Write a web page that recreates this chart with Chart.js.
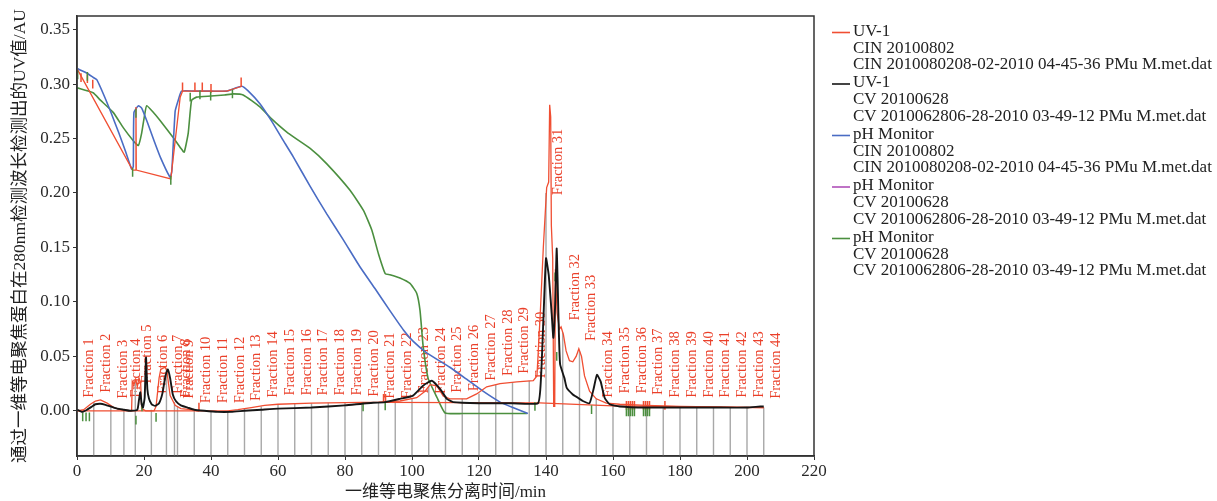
<!DOCTYPE html>
<html><head><meta charset="utf-8">
<script src="https://cdn.jsdelivr.net/npm/chart.js@4.4.1/dist/chart.umd.min.js"></script>
<style>html,body{margin:0;padding:0;background:#fff;overflow:hidden}</style>
</head><body>
<canvas id="c" width="1217" height="501"></canvas>
<script>
// ---------- data (time in min, value in AU) ----------
const xTickValues = [0,20,40,60,80,100,120,140,160,180,200,220];
const yTickValues = [0,0.05,0.10,0.15,0.20,0.25,0.30,0.35];

const uvCIN = [[0,0],[2,0.001],[4,0.006],[5.5,0.009],[7,0.010],[9,0.007],[11,0.003],[13,0.001],[16.3,0],[16.5,0.027],[17.0,0.024],[17.5,0.029],[18.0,0.022],[18.5,0.030],[19.0,0.026],[19.3,0.002],[20.5,0],[23.0,0],[23.6,0.004],[24.5,0.030],[25.0,0.038],[26.3,0.040],[26.8,0.037],[27.8,0.014],[29.3,0.005],[31,0.002],[34,0.001],[36,0],[40,0],[45,0],[48,0.001],[52,0.003],[56,0.005],[60,0.006],[70,0.007],[80,0.0075],[90,0.008],[96.4,0.009],[101.4,0.012],[103.9,0.018],[105.4,0.024],[107.4,0.023],[109.3,0.0135],[111.3,0.011],[116.3,0.011],[119.3,0.0155],[122.3,0.022],[126.3,0.025],[131.3,0.0265],[136.2,0.0276],[137.3,0.032],[138.3,0.09],[139.2,0.15],[140.2,0.205],[140.8,0.21],[141.1,0.281],[141.4,0.270],[141.6,0.170],[142.0,0.140],[142.3,0.004],[142.6,0.004],[142.8,0.130],[143.3,0.090],[144.0,0.075],[144.5,0.077],[145.2,0.070],[146.0,0.055],[147.0,0.046],[148.0,0.045],[149.0,0.050],[149.8,0.057],[150.6,0.050],[151.5,0.032],[153,0.018],[155,0.011],[158,0.007],[162,0.006],[170,0.005],[180,0.004],[190,0.0035],[205,0.003]];

const uvCV = [[0,0.001],[1.5,-0.001],[3,0.001],[4.5,0.004],[5.5,0.006],[7,0.0065],[8.5,0.0055],[10,0.004],[12,0.002],[14,0.001],[16,0],[18,0.001],[18.5,0.010],[18.9,0.017],[19.3,0.006],[19.7,0.003],[20.2,0.012],[20.6,0.049],[21.0,0.020],[21.5,0.011],[22.3,0.006],[23.3,0.0045],[24.5,0.007],[25.5,0.016],[26.4,0.032],[27.1,0.038],[27.8,0.030],[28.6,0.015],[29.5,0.009],[31,0.005],[33,0.003],[35,0.001],[38,0],[42,-0.001],[46,-0.001],[50,0],[55,0.001],[60,0.002],[70,0.003],[80,0.005],[86.5,0.007],[92,0.008],[96.4,0.011],[100.3,0.014],[103.3,0.023],[105.9,0.0276],[108.4,0.020],[110.4,0.011],[112.3,0.008],[120,0.007],[130,0.007],[137.6,0.007],[138.5,0.030],[139.3,0.090],[140.0,0.140],[140.8,0.125],[141.7,0.089],[142.2,0.067],[142.7,0.095],[143.2,0.149],[143.7,0.089],[144.2,0.043],[145.5,0.030],[146.2,0.021],[148,0.015],[149,0.013],[151,0.009],[153,0.007],[154.2,0.020],[155.2,0.033],[156.3,0.027],[157.5,0.012],[159,0.006],[162,0.004],[170,0.003],[180,0.003],[190,0.003],[200,0.003],[204,0.004],[205,0.004]];

const phCIN = [[0.2,0.314],[3,0.310],[4.9,0.306],[5.9,0.304],[8,0.290],[10,0.275],[12.5,0.255],[14.5,0.238],[16.3,0.222],[16.8,0.224],[17.0,0.274],[18.3,0.280],[19.3,0.278],[21,0.265],[23,0.248],[25,0.232],[27.8,0.2145],[28.3,0.220],[29.3,0.275],[30.2,0.285],[31.2,0.2935],[35,0.2935],[40,0.2935],[44.7,0.2935],[47,0.296],[49.2,0.298],[51,0.294],[54.6,0.282],[58.1,0.266],[61.6,0.248],[64.6,0.233],[69.6,0.206],[74.5,0.181],[79.5,0.157],[84.5,0.132],[89,0.112],[93.4,0.092],[97.5,0.074],[100.3,0.064],[104.5,0.053],[111.3,0.040],[116.3,0.029],[121.2,0.018],[126.3,0.008],[130.1,0.003],[134.6,-0.0025]];

const phCV = [];   // pH Monitor, CV 20100628 (purple, hidden under the green trace)

const phCV2 = [[0,0.2965],[4.8,0.292],[6.9,0.2855],[10.8,0.274],[13.8,0.260],[16.8,0.248],[18.3,0.2435],[19.3,0.255],[20.2,0.272],[20.8,0.280],[22.5,0.275],[24.8,0.2665],[28.7,0.251],[31.0,0.241],[32.0,0.2375],[33.2,0.255],[34.2,0.285],[35.7,0.288],[40,0.289],[44,0.290],[46.7,0.291],[49.6,0.290],[54.6,0.279],[58.1,0.268],[63,0.255],[69.6,0.241],[74.5,0.227],[81.5,0.2025],[85.5,0.184],[88,0.166],[90,0.144],[92,0.126],[93.4,0.125],[96.4,0.122],[99.4,0.117],[101.4,0.108],[102.4,0.092],[103.3,0.060],[104.8,0.030],[107.5,0.012],[109.9,-0.002],[115,-0.0025],[134.3,-0.0025]];

const cinGuide = [[0.2,0.313],[16.6,0.221],[17.5,0.221],[17.6,0.279],[17.7,0.221],[28.0,0.213],[30.8,0.288],[31.5,0.2935],[44.7,0.2935],[49.2,0.298]];
const cinBaseA = [[0,0],[36.4,0]];
const cinBaseB = [[91.5,0.0078],[138,0.0072],[160,0.0045],[205,0.003]];

const redMarks = [[1.2,0.306],[3.1,0.305],[4.7,0.300],[31.5,0.2975],[35.2,0.2975],[36.4,0.0035],[37.4,0.2975],[40.0,0.296],[49.0,0.302],[91.5,0.0115],[92.1,0.0115],[164.0,0.005],[164.6,0.005],[165.2,0.005],[165.8,0.005],[166.4,0.005],[169.1,0.005],[169.7,0.005],[170.3,0.005],[170.9,0.005],[175.5,0.005]];
const greenMarks = [[0.2,0.3085],[1.7,-0.0055],[2.7,-0.0055],[3.1,0.307],[3.7,-0.0055],[16.6,0.219],[17.6,-0.0085],[17.6,0.273],[19.4,0.0035],[23.6,-0.006],[28.0,0.2115],[33.8,0.288],[36.7,0.290],[39.9,0.289],[46.4,0.291],[85.4,0.0035],[92.0,0.0045],[136.7,0.004],[142.7,0.123],[143.2,0.050],[153.6,0.001],[164.0,-0.001],[164.6,-0.001],[165.2,-0.001],[165.8,-0.001],[166.4,-0.001],[169.1,-0.001],[169.7,-0.001],[170.3,-0.001],[170.9,-0.001]];

const fracStart = [0,5.0,10.1,14.0,17.4,22.2,26.7,29.1,30.0,35,40,45,50,55,60,65,70,75,80,85,90,95,100,105,110,115,120,125,130,135,140,145,150,155,160,165,170,175,180,185,190,195,200,205];
const fracLineTop = [0,0.008,0.004,0.001,0.028,0.001,0.039,0.008,0.004,0,0,0,0.002,0.004,0.006,0.007,0.007,0.0075,0.0075,0.008,0.008,0.009,0.011,0.023,0.013,0.011,0.016,0.024,0.0265,0.0275,0.20,0.072,0.055,0.011,0.006,0.005,0.005,0.0045,0.004,0.004,0.0035,0.0035,0.003,0.003];
const fracLabelY = [0.012,0.0165,0.011,0.012,0.025,0.0155,0.0155,0.012,0.011,0.007,0.007,0.007,0.009,0.012,0.014,0.014,0.014,0.014,0.014,0.013,0.011,0.011,0.016,0.0155,0.0165,0.018,0.0276,0.032,0.034,0.030,0.198,0.083,0.064,0.012,0.016,0.016,0.0145,0.012,0.012,0.012,0.012,0.012,0.012,0.011];
const fracNames = fracStart.map((_, i) => 'Fraction ' + (i + 1));

const legendText = [
  ['UV-1', 'CIN 20100802', 'CIN 2010080208-02-2010 04-45-36 PMu M.met.dat'],
  ['UV-1', 'CV 20100628', 'CV 2010062806-28-2010 03-49-12 PMu M.met.dat'],
  ['pH Monitor', 'CIN 20100802', 'CIN 2010080208-02-2010 04-45-36 PMu M.met.dat'],
  ['pH Monitor', 'CV 20100628', 'CV 2010062806-28-2010 03-49-12 PMu M.met.dat'],
  ['pH Monitor', 'CV 20100628', 'CV 2010062806-28-2010 03-49-12 PMu M.met.dat']
];
const xTitle = '一维等电聚焦分离时间/min';
const yTitle = '通过一维等电聚焦蛋白在280nm检测波长检测出的UV值/AU';

// ---------- styles ----------
const Y_MIN = -0.0415, Y_MAX = 0.3625;
const RED = '#f04e32', BLACK = '#161616', BLUE = '#4a6cc4', PURPLE = '#b050b8', GREEN = '#4b8f3f';
const LABEL_RED = '#ea402a', GREY = '#a8a8a8', AXIS = '#333';
const legendColors = [RED, BLACK, BLUE, PURPLE, GREEN];
const SERIF = "'Liberation Serif', 'Times New Roman', serif";
const TITLE_FONT = "'Liberation Serif', 'Noto Sans CJK SC', serif";
const MARK_HALF = 0.004;

const pts = arr => arr.map(p => ({x: p[0], y: p[1]}));
function joinRuns(...runs) {
  const out = [];
  runs.forEach((r, i) => { if (i) out.push({x: r[0][0], y: null}); out.push(...pts(r)); });
  return out;
}
function marks(list) {
  const out = [];
  list.forEach(([t, c]) => { out.push({x: t, y: c - MARK_HALF}, {x: t, y: c + MARK_HALF}, {x: t, y: null}); });
  return out;
}
function dropLines() {
  const out = [];
  fracStart.forEach((t, i) => { if (t > 0) out.push({x: t, y: Y_MIN}, {x: t, y: fracLineTop[i]}, {x: t, y: null}); });
  return out;
}

const ds = (data, color, width, order, tension) => ({
  data, borderColor: color, backgroundColor: color, borderWidth: width, order,
  pointRadius: 0, fill: false, tension: tension || 0, spanGaps: false
});

const datasets = [
  ds(pts(uvCV), BLACK, 1.9, 0, 0.15),
  ds(marks(greenMarks), GREEN, 1.5, 1),
  ds(marks(redMarks), RED, 1.5, 1),
  ds(pts(uvCIN), RED, 1.3, 2),
  ds(joinRuns(cinBaseA, cinBaseB), RED, 1.2, 3),
  ds(pts(cinGuide), RED, 1.3, 3),
  ds(pts(phCIN), BLUE, 1.6, 4, 0.15),
  ds(pts(phCV), PURPLE, 1.5, 5),
  ds(pts(phCV2), GREEN, 1.6, 5, 0.15),
  ds(dropLines(), GREY, 1.4, 10)
];

const fractionLabels = {
  id: 'fractionLabels',
  beforeDatasetsDraw(chart) {
    const {ctx, scales: {x, y}} = chart;
    ctx.save();
    ctx.font = "14.5px " + SERIF;
    ctx.fillStyle = LABEL_RED;
    ctx.textAlign = 'left';
    ctx.textBaseline = 'middle';
    fracNames.forEach((name, i) => {
      const px = x.getPixelForValue(fracStart[i]) + 12;
      const py = y.getPixelForValue(fracLabelY[i]);
      ctx.save();
      ctx.translate(px, py);
      ctx.rotate(-Math.PI / 2);
      ctx.fillText(name, 0, 0);
      ctx.restore();
    });
    ctx.restore();
  }
};

const frame = {
  id: 'frame',
  afterDatasetsDraw(chart) {
    const {ctx, chartArea: a} = chart;
    ctx.save();
    ctx.strokeStyle = AXIS;
    ctx.lineWidth = 1.5;
    ctx.beginPath();
    ctx.moveTo(a.left, a.bottom);
    ctx.lineTo(a.left, a.top);
    ctx.lineTo(a.right, a.top);
    ctx.lineTo(a.right, a.bottom);
    ctx.lineTo(a.left, a.bottom);
    ctx.stroke();
    ctx.restore();
  }
};

const legendBox = {
  id: 'legendBox',
  afterDraw(chart) {
    const {ctx, chartArea: a} = chart;
    const x0 = a.right + 18, y0 = 31.5, groupGap = 51.5, lineGap = 16.7;
    ctx.save();
    ctx.font = "17px " + SERIF;
    ctx.textBaseline = 'middle';
    ctx.textAlign = 'left';
    legendText.forEach((lines, g) => {
      const gy = y0 + g * groupGap;
      ctx.strokeStyle = legendColors[g];
      ctx.lineWidth = 1.6;
      ctx.beginPath();
      ctx.moveTo(x0, gy + 1);
      ctx.lineTo(x0 + 18, gy + 1);
      ctx.stroke();
      ctx.fillStyle = '#222';
      lines.forEach((t, k) => ctx.fillText(t, x0 + 21, gy + k * lineGap));
    });
    ctx.restore();
  }
};

new Chart(document.getElementById('c'), {
  type: 'line',
  data: {datasets},
  options: {
    animation: false,
    responsive: false,
    devicePixelRatio: 1,
    layout: {padding: {top: 16, right: 403, left: 0, bottom: 0}},
    plugins: {legend: {display: false}, tooltip: {enabled: false}},
    scales: {
      x: {
        type: 'linear', min: 0, max: 220,
        afterBuildTicks: s => { s.ticks = xTickValues.map(v => ({value: v})); },
        afterFit: s => { s.height = 45; },
        ticks: {font: {family: SERIF, size: 17}, color: '#2a2a2a', padding: 1, maxRotation: 0, autoSkip: false},
        grid: {drawOnChartArea: false, tickLength: 4, color: AXIS, lineWidth: 1},
        border: {color: AXIS, width: 1.5},
        title: {display: true, text: xTitle, color: '#222', font: {family: TITLE_FONT, size: 17, lineHeight: 1}, padding: {top: 0, bottom: 0}}
      },
      y: {
        type: 'linear', min: Y_MIN, max: Y_MAX,
        afterBuildTicks: s => { s.ticks = yTickValues.map(v => ({value: v})); },
        afterFit: s => { s.width = 77; },
        ticks: {font: {family: SERIF, size: 17}, color: '#2a2a2a', padding: 3, autoSkip: false, callback: v => Number(v).toFixed(2)},
        grid: {drawOnChartArea: false, tickLength: 4, color: AXIS, lineWidth: 1},
        border: {color: AXIS, width: 1.5},
        title: {display: true, text: yTitle, color: '#222', font: {family: TITLE_FONT, size: 17.5, lineHeight: 1}, padding: {top: 12, bottom: 0}}
      }
    }
  },
  plugins: [fractionLabels, frame, legendBox]
});
</script>
</body></html>
